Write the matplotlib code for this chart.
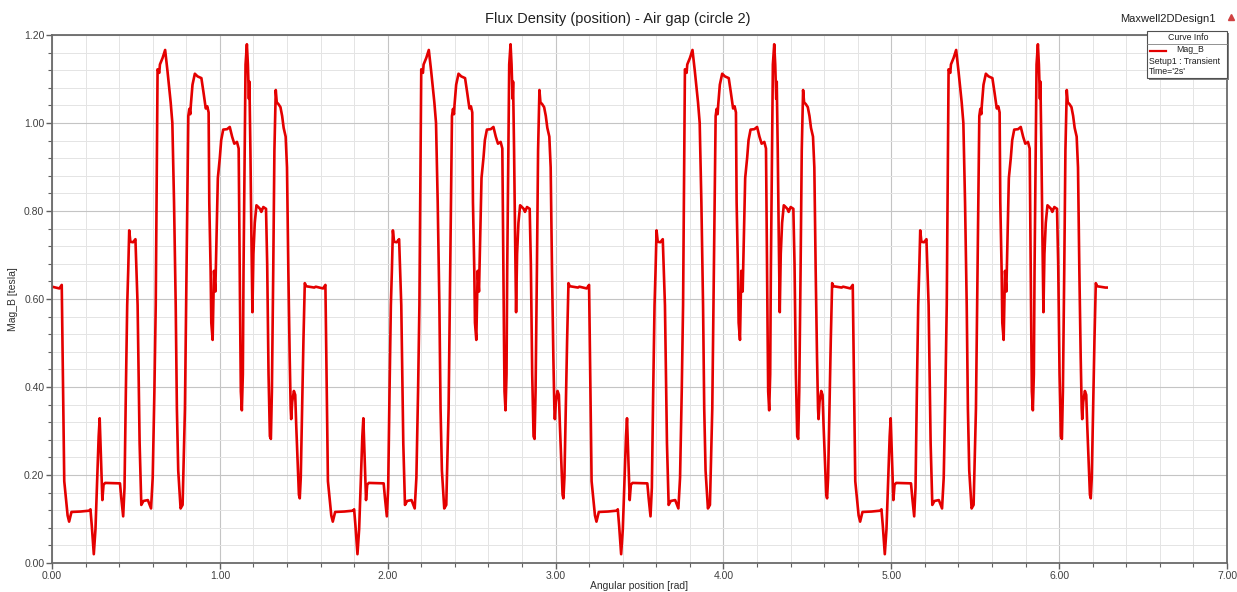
import numpy as np
import matplotlib
matplotlib.use('Agg')
from matplotlib import pyplot as plt
from matplotlib.ticker import MultipleLocator
from matplotlib.patches import Rectangle
from matplotlib.lines import Line2D

plt.rcParams['font.family'] = ['Liberation Sans', 'DejaVu Sans']

# One electrical period (pi/2 rad) of |B|; the trace repeats 4 times
pos_period = [0.000, 0.044, 0.058, 0.061, 0.065, 0.069, 0.073, 0.081, 0.093, 0.102,
              0.116, 0.171, 0.225, 0.229, 0.237, 0.249, 0.259, 0.268, 0.278, 0.284,
              0.292, 0.300, 0.307, 0.317, 0.405, 0.413, 0.424, 0.432, 0.440, 0.448,
              0.454, 0.460, 0.467, 0.483, 0.497, 0.502, 0.510, 0.516, 0.522, 0.532,
              0.545, 0.571, 0.590, 0.600, 0.610, 0.618, 0.623, 0.629, 0.639, 0.643,
              0.659, 0.674, 0.688, 0.707, 0.717, 0.727, 0.737, 0.744, 0.752, 0.766,
              0.778, 0.792, 0.804, 0.812, 0.818, 0.824, 0.827, 0.837, 0.851, 0.867,
              0.890, 0.902, 0.916, 0.925, 0.933, 0.937, 0.945, 0.949, 0.957, 0.965,
              0.973, 0.980, 0.988, 1.000, 1.008, 1.020, 1.043, 1.059, 1.073, 1.086,
              1.102, 1.112, 1.118, 1.122, 1.125, 1.131, 1.137, 1.141, 1.147, 1.153,
              1.161, 1.167, 1.173, 1.176, 1.182, 1.188, 1.194, 1.200, 1.208, 1.218,
              1.229, 1.239, 1.247, 1.259, 1.275, 1.282, 1.290, 1.298, 1.304, 1.310,
              1.318, 1.325, 1.333, 1.339, 1.349, 1.361, 1.371, 1.380, 1.392, 1.400,
              1.408, 1.416, 1.422, 1.425, 1.431, 1.441, 1.449, 1.455, 1.463, 1.471,
              1.476, 1.482, 1.490, 1.498, 1.506, 1.514, 1.563]
b_period = [0.628, 0.624, 0.632, 0.546, 0.429, 0.312, 0.186, 0.155, 0.108, 0.094,
            0.116, 0.117, 0.119, 0.122, 0.085, 0.020, 0.077, 0.178, 0.288, 0.329,
            0.233, 0.143, 0.178, 0.182, 0.181, 0.147, 0.106, 0.171, 0.390, 0.586,
            0.664, 0.756, 0.730, 0.729, 0.736, 0.679, 0.586, 0.429, 0.272, 0.132,
            0.141, 0.143, 0.124, 0.194, 0.390, 0.586, 0.820, 1.122, 1.114, 1.133,
            1.148, 1.166, 1.118, 1.047, 1.000, 0.820, 0.586, 0.351, 0.210, 0.124,
            0.132, 0.351, 0.742, 1.016, 1.032, 1.020, 1.040, 1.087, 1.112, 1.106,
            1.102, 1.071, 1.033, 1.038, 1.024, 0.820, 0.664, 0.546, 0.507, 0.664,
            0.617, 0.742, 0.875, 0.922, 0.961, 0.985, 0.986, 0.991, 0.969, 0.953,
            0.957, 0.942, 0.664, 0.507, 0.390, 0.347, 0.429, 0.664, 0.899, 1.133,
            1.179, 1.133, 1.055, 1.094, 0.938, 0.742, 0.570, 0.703, 0.773, 0.813,
            0.809, 0.805, 0.798, 0.809, 0.805, 0.679, 0.429, 0.288, 0.282, 0.390,
            0.664, 0.938, 1.075, 1.047, 1.043, 1.036, 1.016, 0.989, 0.969, 0.899,
            0.664, 0.468, 0.351, 0.327, 0.366, 0.391, 0.382, 0.312, 0.233, 0.155,
            0.147, 0.194, 0.351, 0.507, 0.636, 0.629, 0.626]
n_periods = 4
period = np.pi / 2

x_ticks = [0, 1, 2, 3, 4, 5, 6, 7]
y_ticks = [0.0, 0.2, 0.4, 0.6, 0.8, 1.0, 1.2]

pos = np.concatenate([np.array(pos_period) + k * period for k in range(n_periods)])
mag_b = np.tile(b_period, n_periods)
pos = np.append(pos, 2 * np.pi)
mag_b = np.append(mag_b, b_period[-1])

fig = plt.figure(figsize=(12.37, 5.92), dpi=100)
ax = fig.add_axes([52 / 1237, 1 - 563 / 592, (1227 - 52) / 1237, (563 - 35) / 592])

ax.plot(pos, mag_b, color='#e40000', lw=1.9, solid_joinstyle='round')

ax.set_xlim(0, 7)
ax.set_ylim(0, 1.2)
ax.set_xticks(x_ticks)
ax.set_yticks(y_ticks)
ax.set_xticklabels(['%.2f' % v for v in x_ticks])
ax.set_yticklabels(['%.2f' % v for v in y_ticks])
ax.xaxis.set_minor_locator(MultipleLocator(0.2))
ax.yaxis.set_minor_locator(MultipleLocator(0.04))
ax.grid(which='major', color='#c4c4c4', lw=0.8)
ax.grid(which='minor', color='#e4e4e4', lw=0.7)
ax.set_axisbelow(True)
ax.tick_params(which='major', length=4, width=1, color='#606060',
               labelsize=7.5, labelcolor='#404040', pad=1.5)
ax.tick_params(which='minor', length=3, width=0.8, color='#606060')
for sp in ax.spines.values():
    sp.set_color('#6a6a6a')
    sp.set_linewidth(1.3)

ax.set_xlabel('Angular position [rad]', fontsize=7.5, color='#303030', labelpad=0)
ax.set_ylabel('Mag_B [tesla]', fontsize=7.5, color='#303030', labelpad=4)

fig.text(618 / 1237, 1 - 19 / 592, 'Flux Density (position) - Air gap (circle 2)',
         ha='center', va='center', fontsize=10.5, color='#202020')
fig.text(1168 / 1237, 1 - 19 / 592, 'Maxwell2DDesign1', ha='center', va='center',
         fontsize=8, color='#202020')
fig.add_artist(Line2D([1231 / 1237], [1 - 17 / 592], marker='^', markersize=5,
                      color='#d04040', transform=fig.transFigure))

# Curve Info box
bx0, bx1, by0, by1 = 1147, 1227, 31, 78
fig.add_artist(Rectangle(((bx0 + 2) / 1237, 1 - (by1 + 2) / 592), (bx1 - bx0) / 1237,
                         (by1 - by0) / 592, transform=fig.transFigure,
                         facecolor='#808080', edgecolor='none', zorder=5))
fig.add_artist(Rectangle((bx0 / 1237, 1 - by1 / 592), (bx1 - bx0) / 1237,
                         (by1 - by0) / 592, transform=fig.transFigure,
                         facecolor='white', edgecolor='#505050', lw=0.8, zorder=6))
fig.add_artist(Line2D([bx0 / 1237, bx1 / 1237], [1 - 44 / 592, 1 - 44 / 592],
                      color='#808080', lw=0.6, transform=fig.transFigure, zorder=7))
fig.text(1188 / 1237, 1 - 38 / 592, 'Curve Info', ha='center', va='center',
         fontsize=6.3, color='#202020', zorder=7)
fig.add_artist(Line2D([1150 / 1237, 1166 / 1237], [1 - 51 / 592, 1 - 51 / 592],
                      color='#e40000', lw=1.6, transform=fig.transFigure, zorder=7))
fig.text(1176 / 1237, 1 - 50 / 592, 'Mag_B', ha='left', va='center',
         fontsize=6.3, color='#202020', zorder=7)
fig.text(1149 / 1237, 1 - 62 / 592, 'Setup1 : Transient', ha='left', va='center',
         fontsize=6.3, color='#202020', zorder=7)
fig.text(1149 / 1237, 1 - 71 / 592, "Time='2s'", ha='left', va='center',
         fontsize=6.3, color='#202020', zorder=7)

fig.savefig('out.png', dpi=100)
